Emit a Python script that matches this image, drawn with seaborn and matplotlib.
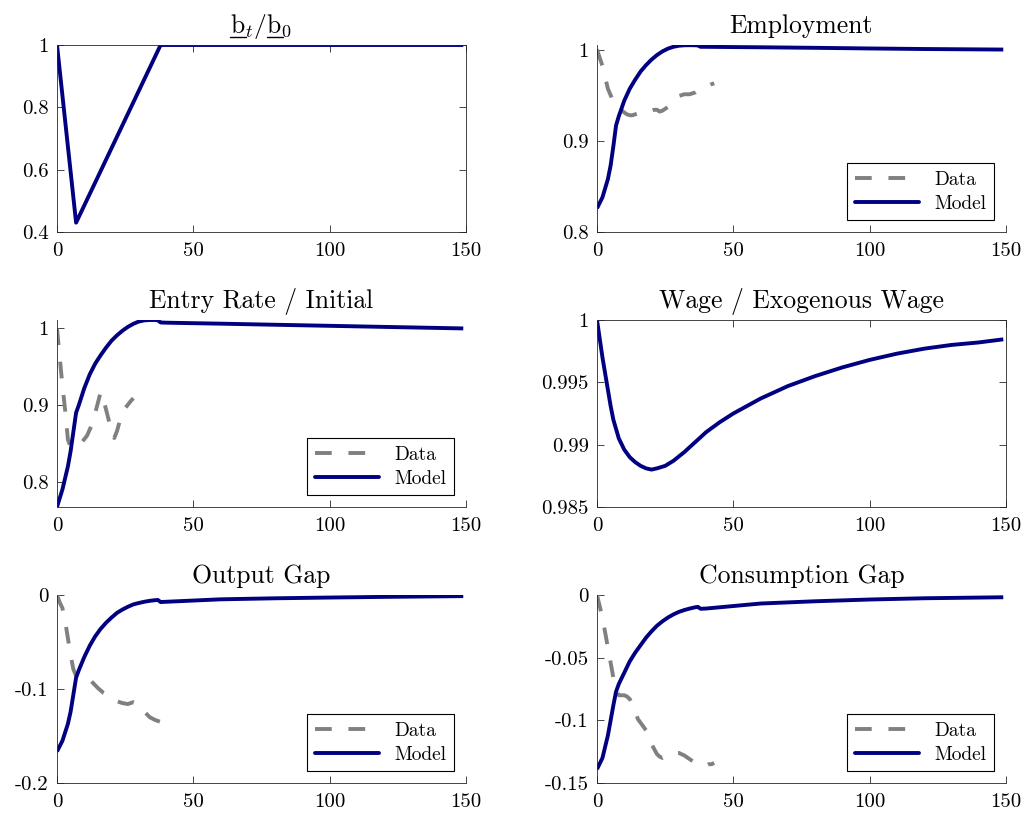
import matplotlib
matplotlib.use("Agg")
import matplotlib.pyplot as plt
import seaborn as sns
from matplotlib.ticker import FuncFormatter
from matplotlib.lines import Line2D

# ---- values ----
b_x = [0, 7, 38, 149]
b_y = [1.0, 0.43, 1.0, 1.0]

model_x = [0, 2, 4, 5, 6, 7, 8, 10, 12, 14, 16, 18, 20, 22, 24, 26, 28, 30,
           32, 34, 36, 37, 38, 40, 60, 80, 100, 120, 149]
emp_model = [0.826, 0.838, 0.858, 0.873, 0.894, 0.917, 0.927, 0.944, 0.957, 0.967,
             0.976, 0.983, 0.989, 0.994, 0.998, 1.001, 1.003, 1.0042, 1.0047, 1.0048,
             1.0047, 1.0045, 1.003, 1.003, 1.0025, 1.0019, 1.0012, 1.0006, 1.0]
entry_model = [0.767, 0.790, 0.820, 0.840, 0.865, 0.890, 0.900, 0.922, 0.940, 0.954,
               0.965, 0.975, 0.984, 0.991, 0.997, 1.002, 1.006, 1.009, 1.0105, 1.011,
               1.011, 1.0105, 1.0078, 1.0075, 1.0062, 1.0048, 1.0034, 1.002, 1.0]
output_model = [-0.1665, -0.155, -0.137, -0.124, -0.106, -0.088, -0.080, -0.066, -0.054,
                -0.044, -0.036, -0.0295, -0.024, -0.019, -0.0155, -0.0125, -0.010, -0.0085,
                -0.0072, -0.0062, -0.0055, -0.0053, -0.0075, -0.0072, -0.0046, -0.0035,
                -0.0027, -0.002, -0.0012]
cons_model = [-0.139, -0.130, -0.112, -0.100, -0.088, -0.077, -0.071, -0.062, -0.053,
              -0.046, -0.040, -0.034, -0.029, -0.0245, -0.021, -0.018, -0.0155, -0.0135,
              -0.012, -0.0108, -0.0098, -0.0095, -0.011, -0.0108, -0.0068, -0.0050,
              -0.0036, -0.0026, -0.0018]

wage_x = [0, 1, 2, 3, 4, 5, 6, 8, 10, 12, 14, 16, 18, 20, 22, 25, 28, 32, 36, 40, 45,
          50, 60, 70, 80, 90, 100, 110, 120, 130, 140, 149]
wage_y = [1.0, 0.9985, 0.9970, 0.9957, 0.9944, 0.9931, 0.9920, 0.9905, 0.9896, 0.9890,
          0.9886, 0.9883, 0.9881, 0.9880, 0.9881, 0.9883, 0.9887, 0.9894, 0.9902, 0.9910,
          0.9918, 0.9925, 0.9937, 0.9947, 0.9955, 0.9962, 0.9968, 0.9973, 0.9977, 0.9980,
          0.9982, 0.99845]

emp_data_x = [0, 2, 4, 6, 8, 10, 11, 12, 13, 14, 16, 18, 19, 20, 21, 22, 23, 24, 26,
              28, 29, 30, 32, 34, 36, 38, 39, 40, 42, 43]
emp_data_y = [1.0, 0.982, 0.957, 0.943, 0.936, 0.931, 0.929, 0.928, 0.928, 0.929, 0.931,
              0.933, 0.934, 0.933, 0.934, 0.934, 0.932, 0.933, 0.937, 0.942, 0.946, 0.949,
              0.951, 0.951, 0.953, 0.957, 0.958, 0.959, 0.962, 0.963]

entry_data_x = [0, 1, 2, 3, 4, 5, 7, 9, 11, 13, 15, 16, 17, 18, 19, 20, 21, 22, 23, 25, 27, 28]
entry_data_y = [1.0, 0.962, 0.925, 0.893, 0.855, 0.845, 0.846, 0.851, 0.860, 0.876, 0.903,
                0.917, 0.908, 0.894, 0.880, 0.864, 0.857, 0.866, 0.879, 0.896, 0.905, 0.909]

out_data_x = [0, 1, 2, 3, 4, 5, 6, 7, 9, 11, 12, 13, 15, 17, 19, 20, 21, 22, 24, 26, 27,
              28, 29, 30, 32, 34, 36, 38, 39, 40]
out_data_y = [0.0, -0.008, -0.014, -0.028, -0.046, -0.064, -0.079, -0.086, -0.088, -0.089,
              -0.090, -0.093, -0.099, -0.104, -0.107, -0.108, -0.111, -0.113, -0.115, -0.116,
              -0.115, -0.114, -0.115, -0.116, -0.124, -0.130, -0.133, -0.135, -0.135, -0.133]

cons_data_x = [0, 2, 4, 6, 7, 8, 9, 10, 11, 12, 13, 14, 15, 16, 17, 18, 19, 20, 21, 22,
               23, 24, 25, 26, 28, 30, 32, 34, 36, 38, 40, 41, 42, 43]
cons_data_y = [0.0, -0.018, -0.042, -0.066, -0.076, -0.080, -0.080, -0.080, -0.081, -0.083,
               -0.087, -0.093, -0.099, -0.102, -0.105, -0.108, -0.113, -0.119, -0.123,
               -0.127, -0.129, -0.130, -0.129, -0.127, -0.126, -0.126, -0.128, -0.131,
               -0.134, -0.136, -0.136, -0.135, -0.135, -0.134]

NAVY = "#000080"
GRAY = "#808080"
INK = "#262626"
TITLE_FS = 18.5
TICK_FS = 15
LEG_FS = 14
LW = 2.8
DASH = (0, (4.3, 4.3))

sns.set_theme(style="ticks")
plt.rcParams["font.family"] = ["cmr10", "DejaVu Serif"]
plt.rcParams["mathtext.fontset"] = "cm"
plt.rcParams["axes.unicode_minus"] = False
plt.rcParams["axes.formatter.use_mathtext"] = True
plt.rcParams["text.color"] = "black"

fig = plt.figure(figsize=(10.25, 8.13), dpi=100)
W, H = 1025.0, 813.0


def make_axes(left_px, top_px, bottom_px):
    return fig.add_axes([left_px / W, 1 - bottom_px / H,
                         409 / W, (bottom_px - top_px) / H])


def style_axes(ax, ylim, yticks, box):
    ax.set_xlim(0, 150)
    ax.set_ylim(*ylim)
    ax.set_xticks([0, 50, 100, 150])
    ax.set_yticks(yticks)
    fmt = FuncFormatter(lambda v, p: f"{v:g}")
    ax.xaxis.set_major_formatter(fmt)
    ax.yaxis.set_major_formatter(fmt)
    ax.tick_params(direction="in", length=5, width=0.6, labelsize=TICK_FS,
                   color=INK, labelcolor="black", top=box, right=box)
    ax.tick_params(axis="x", pad=7)
    ax.tick_params(axis="y", pad=6)
    ax.spines["top"].set_visible(box)
    ax.spines["right"].set_visible(box)
    for sp in ax.spines.values():
        sp.set_linewidth(0.6)
        sp.set_color(INK)
    ax.set_xlabel("")
    ax.set_ylabel("")
    ax.grid(False)


def add_legend(ax):
    leg = ax.legend(loc="lower right", fontsize=LEG_FS, frameon=True, fancybox=False,
                    edgecolor="black", framealpha=1, handlelength=3.3,
                    borderaxespad=0.6, borderpad=0.4, labelspacing=0.3)
    leg.get_frame().set_linewidth(0.8)


def set_title(ax, s):
    return ax.set_title(s, fontsize=TITLE_FS, pad=8.6, color="black")


ax1 = make_axes(57, 45, 232)
ax2 = make_axes(597, 45, 232)
ax3 = make_axes(57, 320, 507)
ax4 = make_axes(597, 320, 507)
ax5 = make_axes(57, 595, 783)
ax6 = make_axes(597, 595, 783)

# b_t / b_0
sns.lineplot(x=b_x, y=b_y, ax=ax1, color=NAVY, lw=LW)
style_axes(ax1, (0.4, 1.0), [0.4, 0.6, 0.8, 1.0], True)
t1 = set_title(ax1, r"$\mathrm{b}_t/\mathrm{b}_0$")

# Employment
sns.lineplot(x=emp_data_x, y=emp_data_y, ax=ax2, color=GRAY, lw=LW, linestyle=DASH, label="Data")
sns.lineplot(x=model_x, y=emp_model, ax=ax2, color=NAVY, lw=LW, label="Model")
style_axes(ax2, (0.8, 1.005), [0.8, 0.9, 1.0], False)
set_title(ax2, "Employment")
add_legend(ax2)

# Entry rate
sns.lineplot(x=entry_data_x, y=entry_data_y, ax=ax3, color=GRAY, lw=LW, linestyle=DASH, label="Data")
sns.lineplot(x=model_x, y=entry_model, ax=ax3, color=NAVY, lw=LW, label="Model")
style_axes(ax3, (0.767, 1.011), [0.8, 0.9, 1.0], False)
set_title(ax3, "Entry Rate / Initial")
add_legend(ax3)

# Wage
sns.lineplot(x=wage_x, y=wage_y, ax=ax4, color=NAVY, lw=LW)
style_axes(ax4, (0.985, 1.0), [0.985, 0.99, 0.995, 1.0], True)
set_title(ax4, "Wage / Exogenous Wage")

# Output gap
sns.lineplot(x=out_data_x, y=out_data_y, ax=ax5, color=GRAY, lw=LW, linestyle=DASH, label="Data")
sns.lineplot(x=model_x, y=output_model, ax=ax5, color=NAVY, lw=LW, label="Model")
style_axes(ax5, (-0.2, 0.0), [-0.2, -0.1, 0.0], False)
set_title(ax5, "Output Gap")
add_legend(ax5)

# Consumption gap
sns.lineplot(x=cons_data_x, y=cons_data_y, ax=ax6, color=GRAY, lw=LW, linestyle=DASH, label="Data")
sns.lineplot(x=model_x, y=cons_model, ax=ax6, color=NAVY, lw=LW, label="Model")
style_axes(ax6, (-0.15, 0.0), [-0.15, -0.1, -0.05, 0.0], False)
set_title(ax6, "Consumption Gap")
add_legend(ax6)

for ax in fig.axes:
    for ln in ax.lines:
        ln.set_solid_capstyle("butt")
        ln.set_dash_capstyle("butt")
        ln.set_solid_joinstyle("round")

# underline the two b's of the first title (mathtext has no \underline)
fig.canvas.draw()
r = fig.canvas.get_renderer()


def text_w(s):
    t = fig.text(0, 0, s, fontsize=TITLE_FS)
    w = t.get_window_extent(r).width
    t.remove()
    return w


tb = t1.get_window_extent(r)
w_b = text_w(r"$\mathrm{b}$")
w_pre = text_w(r"$\mathrm{b}_t/$")
ax_top = ax1.get_window_extent(r).y1
base = ax_top + 8.6 * fig.dpi / 72.0
uy = (base - 4.0) / H
for x0 in (tb.x0, tb.x0 + w_pre):
    fig.add_artist(Line2D([x0 / W, (x0 + w_b) / W], [uy, uy], color="black",
                          lw=1.0, transform=fig.transFigure))

fig.savefig("out.png", dpi=100)
